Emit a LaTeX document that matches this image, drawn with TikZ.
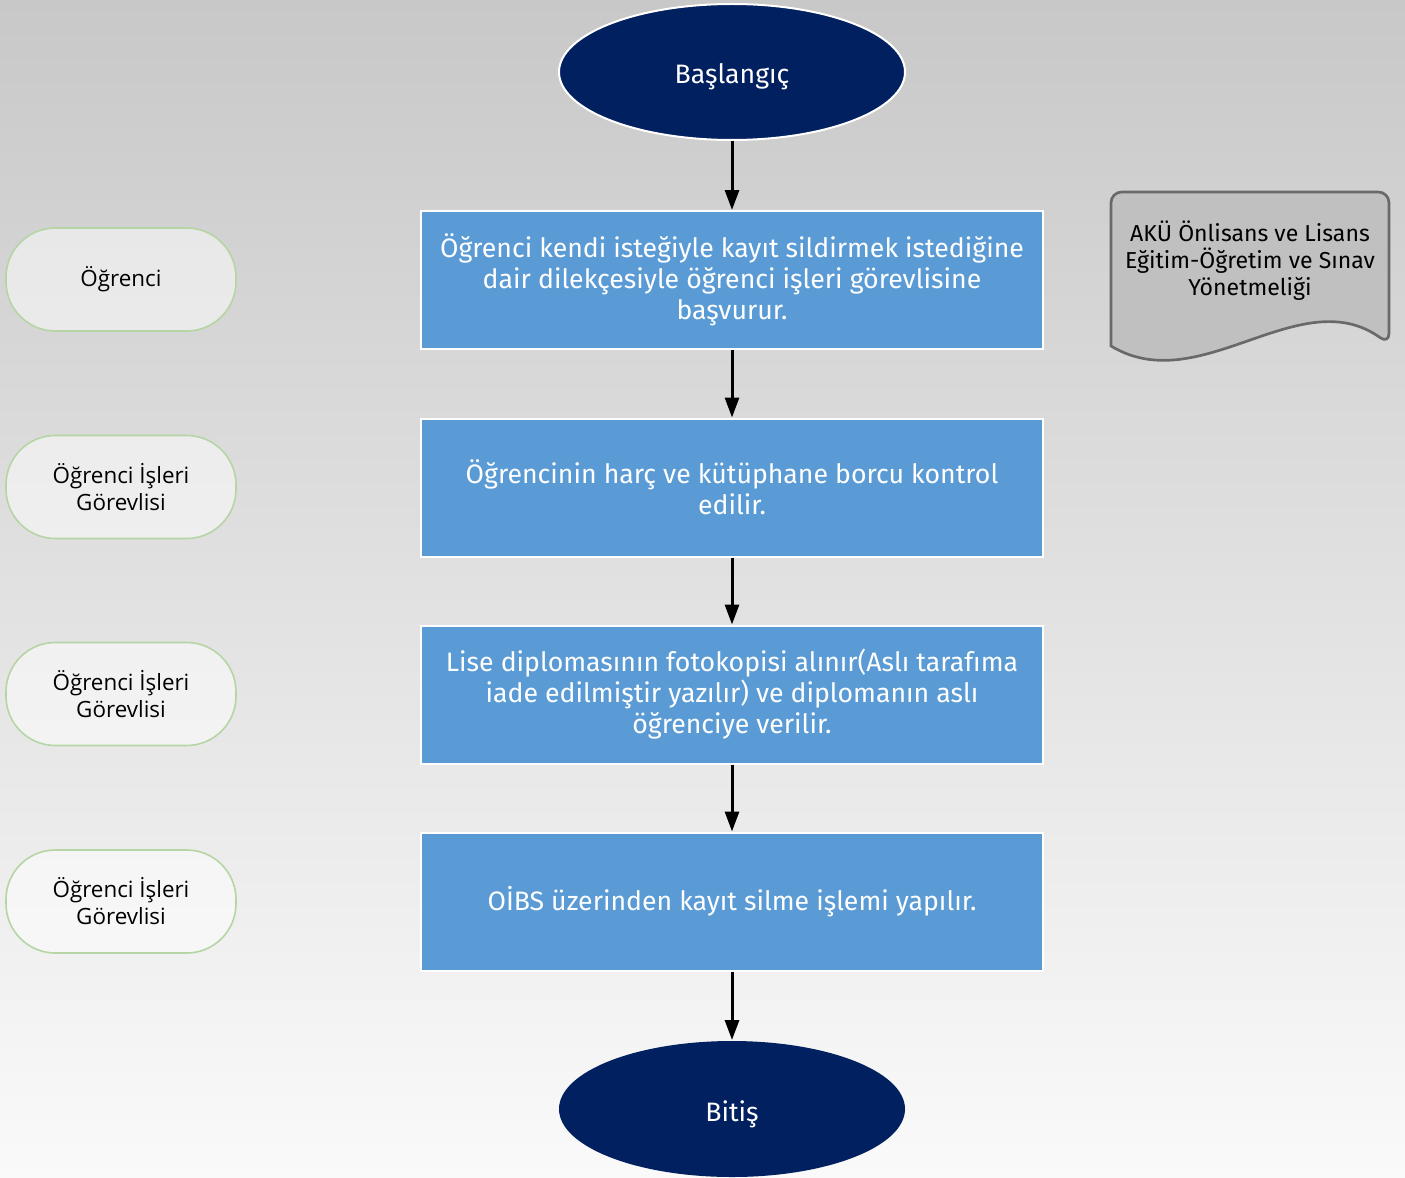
\documentclass[tikz,border=0pt]{standalone}
\usepackage{fontspec}
\setmainfont{Fira Sans}
\newfontfamily\lblfont{Open Sans}
\usetikzlibrary{shapes.geometric,arrows.meta}
\definecolor{navy}{RGB}{0,32,96}
\definecolor{boxblue}{RGB}{91,155,213}
\definecolor{lblgreen}{RGB}{181,213,165}
\definecolor{docfill}{RGB}{192,192,192}
\definecolor{docline}{RGB}{105,105,105}
\definecolor{bgtop}{RGB}{200,200,200}
\definecolor{bgbot}{RGB}{250,250,250}
\tikzset{
  terminal/.style={ellipse, fill=navy, draw=white, line width=1.5pt, minimum width=259.5pt, minimum height=102pt, inner sep=0pt, text=white, text height=20pt, text depth=2pt, font=\fontsize{20}{24}\selectfont},
  process/.style={rectangle, fill=boxblue, draw=white, line width=1.5pt, minimum width=466.5pt, minimum height=103.5pt, inner sep=0pt, text=white, align=center, font=\fontsize{20}{23.25}\selectfont},
  actor/.style={rectangle, rounded corners=37pt, fill=white, fill opacity=0.5, text opacity=1, draw=lblgreen, line width=1.2pt, minimum width=172.5pt, minimum height=77.25pt, inner sep=0pt, align=center, font=\lblfont\fontsize{16.8}{20.25}\selectfont},
  flow/.style={line width=2.25pt, -{Triangle[length=15pt,width=10.5pt]}},
  doctext/.style={align=center, font=\fontsize{17.3}{20.25}\selectfont, inner sep=0pt}
}
\begin{document}
\begin{tikzpicture}[x=0.75pt,y=-0.75pt]
\useasboundingbox (0,0) rectangle (1405,1177);
\shade[top color=bgtop, bottom color=bgbot] (0,0) rectangle (1405,1177);

\node[terminal] (start) at (732,72) {Başlangıç};
\node[process] (p1) at (732,280) {Öğrenci kendi isteğiyle kayıt sildirmek istediğine\\dair dilekçesiyle öğrenci işleri görevlisine\\başvurur.};
\node[process] (p2) at (732,487.5) {Öğrencinin harç ve kütüphane borcu kontrol\\edilir.};
\node[process] (p3) at (732,694.5) {Lise diplomasının fotokopisi alınır(Aslı tarafıma\\iade edilmiştir yazılır) ve diplomanın aslı\\öğrenciye verilir.};
\node[process] (p4) at (732,901.5) {OİBS üzerinden kayıt silme işlemi yapılır.};
\node[terminal, draw=none] (end) at (732,1109) {Bitiş};

\draw[flow] (start) -- (p1);
\draw[flow] (p1) -- (p2);
\draw[flow] (p2) -- (p3);
\draw[flow] (p3) -- (p4);
\draw[flow] (p4) -- (end);

\node[actor] (a1) at (121,279.5) {Öğrenci};
\node[actor] (a2) at (121,487) {Öğrenci İşleri\\Görevlisi};
\node[actor] (a3) at (121,694) {Öğrenci İşleri\\Görevlisi};
\node[actor] (a4) at (121,901.5) {Öğrenci İşleri\\Görevlisi};

\draw[fill=docfill, draw=docline, line width=2pt, rounded corners=8pt]
  (1111,346) -- (1111,192) -- (1389,192) -- (1389,344) [sharp corners]
  .. controls (1300,280) and (1200,400) .. (1111,346) -- cycle;
\node[doctext] (doc) at (1250,261) {AKÜ Önlisans ve Lisans\\Eğitim-Öğretim ve Sınav\\Yönetmeliği};
\end{tikzpicture}
\end{document}
